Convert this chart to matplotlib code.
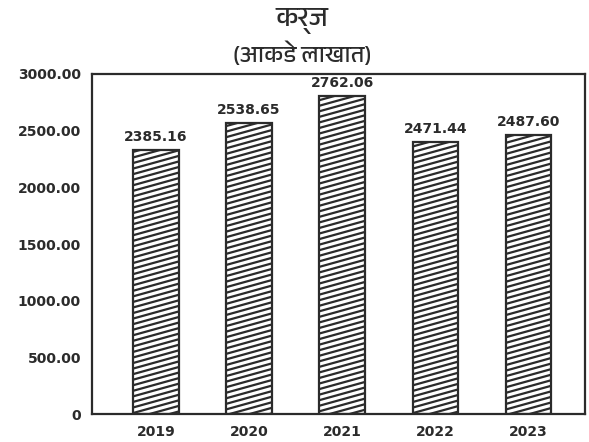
import numpy as np
import matplotlib
matplotlib.use("Agg")
import matplotlib.pyplot as plt
from matplotlib import hatch as mhatch
from matplotlib import font_manager, ft2font
from matplotlib.path import Path

# data
years = ['2019', '2020', '2021', '2022', '2023']
bar_heights = [2330, 2568, 2806, 2400, 2462]
value_labels = ['2385.16', '2538.65', '2762.06', '2471.44', '2487.60']
y_ticks = [0, 500, 1000, 1500, 2000, 2500, 3000]
y_tick_labels = ['0', '500.00', '1000.00', '1500.00', '2000.00', '2500.00', '3000.00']

title = 'कर्ज'
subtitle = '(आकडे लाखात)'

dark = '#2b2b2b'


# shallow diagonal hatch used instead of the 45 degree '/'
class ShallowHatch(mhatch.HatchPatternBase):
    per_cell = 18
    slope = 5 / 18

    def __init__(self, hatch, density):
        self.on = hatch.count('/') > 0
        k0 = -int(round(self.slope * self.per_cell))
        self.offsets = np.arange(k0, self.per_cell) / self.per_cell
        self.num_vertices = len(self.offsets) * 2 if self.on else 0

    def set_vertices_and_codes(self, vertices, codes):
        vertices[0::2, 0] = 0.0
        vertices[0::2, 1] = self.offsets
        vertices[1::2, 0] = 1.0
        vertices[1::2, 1] = self.offsets + self.slope
        codes[0::2] = Path.MOVETO
        codes[1::2] = Path.LINETO


mhatch._hatch_types = [ShallowHatch if t is mhatch.NorthEastHatch else t
                       for t in mhatch._hatch_types]


# find a font that can draw Devanagari
def find_deva_font():
    found = []
    for f in font_manager.fontManager.ttflist:
        try:
            if 0x0915 in ft2font.FT2Font(f.fname).get_charmap():
                found.append(f.name)
        except Exception:
            pass
    for name in found:
        if 'Devanagari' in name:
            return name
    return found[0] if found else 'DejaVu Sans'


deva = find_deva_font()

plt.rcParams['font.family'] = 'DejaVu Sans'
plt.rcParams['hatch.linewidth'] = 1.6
plt.rcParams['hatch.color'] = dark

fig = plt.figure(figsize=(5.89, 4.42), dpi=100)
ax = fig.add_axes([0.1562, 0.0633, 0.837, 0.7693])

x = np.arange(len(years))
bars = ax.bar(x, bar_heights, width=0.49, color='white', edgecolor=dark,
              linewidth=1.6, hatch='/')

for b, lab in zip(bars, value_labels):
    ax.annotate(lab, (b.get_x() + b.get_width() / 2, b.get_height()),
                xytext=(0, 4), textcoords='offset points',
                ha='center', va='bottom', fontsize=10,
                fontweight='bold', color=dark)

ax.set_xlim(-0.687, 4.607)
ax.set_ylim(0, 3000)
ax.set_yticks(y_ticks)
ax.set_yticklabels(y_tick_labels)
ax.set_xticks(x)
ax.set_xticklabels(years)
ax.tick_params(length=0, labelsize=10, colors=dark, pad=8)
for t in ax.get_xticklabels() + ax.get_yticklabels():
    t.set_fontweight('bold')
for s in ax.spines.values():
    s.set_color(dark)
    s.set_linewidth(1.6)

fig.text(0.513, 0.952, title, ha='center', va='center', fontsize=20,
         family=[deva, 'DejaVu Sans'], color=dark)
fig.text(0.513, 0.878, subtitle, ha='center', va='center', fontsize=17,
         family=[deva, 'DejaVu Sans'], color=dark)

fig.savefig('out.png', dpi=100)
